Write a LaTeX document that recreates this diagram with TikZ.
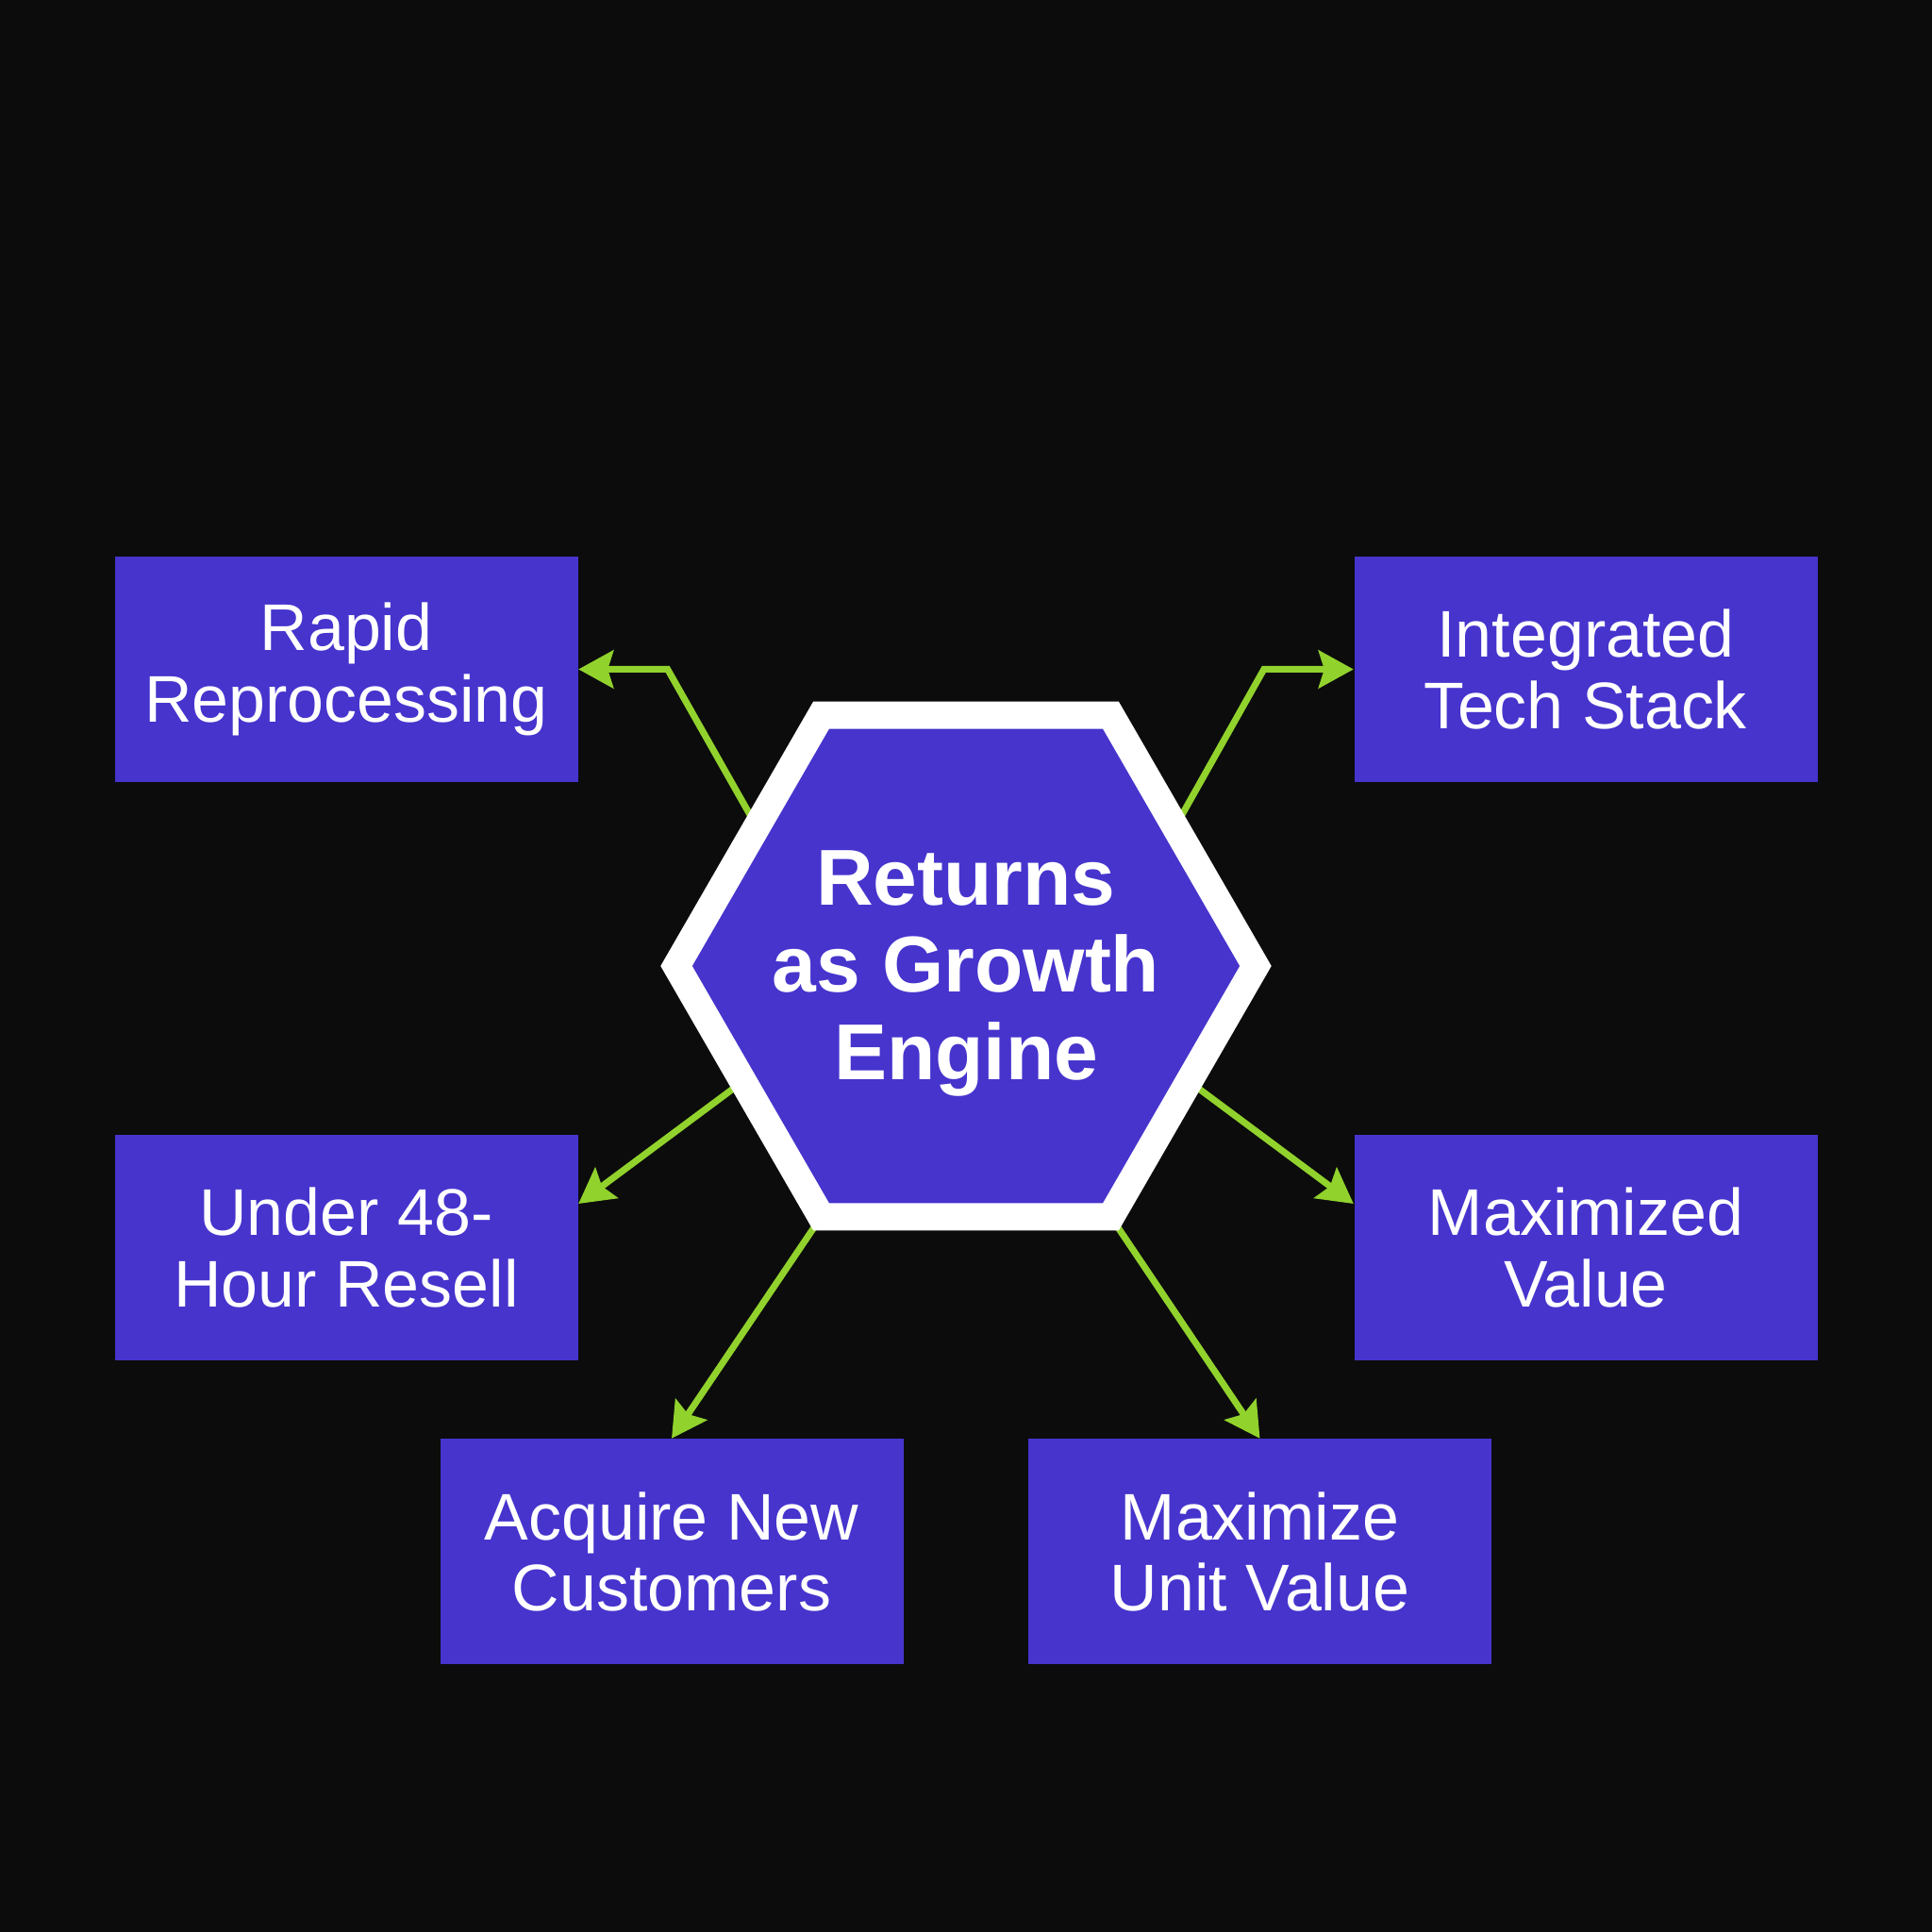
\documentclass[tikz,border=0pt]{standalone}
\usepackage{fontspec}
\setmainfont{Liberation Sans}
\usetikzlibrary{arrows.meta,shapes.geometric,calc}
\definecolor{night}{RGB}{12,12,12}
\definecolor{indigo}{RGB}{70,52,205}
\definecolor{lime}{RGB}{145,210,45}
\tikzset{
  tile/.style={fill=indigo, text=white, align=center, minimum width=4.91cm, minimum height=2.39cm, inner sep=0pt, font=\fontsize{19.9}{21.6}\selectfont},
  link/.style={draw=lime, line width=0.07cm, -{Stealth[length=0.37cm,width=0.4cm,inset=0.06cm]}},
  rim/.style={draw=white, line width=0.29cm}
}
\begin{document}
\begin{tikzpicture}[line join=miter, x=1.0cm, y=1.0cm]
	\useasboundingbox (0,0) rectangle (20.48,20.48);
	\fill[night] (0,0) rectangle (20.48,20.48);
	\node[regular polygon, regular polygon sides=6, minimum size=6.14cm, inner sep=0pt, outer sep=0pt, fill=indigo] (hub) at (10.24,10.24) {};
	\node[text=white, align=center, font=\bfseries\fontsize{23.9}{26.2}\selectfont] (title) at ([yshift=-0.08cm]hub) {Returns\\as Growth\\Engine};
	\node[tile] (rapid) at (3.67,13.385) {Rapid\\Reprocessing};
	\node[tile] (tech) at (16.81,13.385) {Integrated\\Tech Stack};
	\node[tile] (under) at (3.67,7.255) {Under 48-\\Hour Resell};
	\node[tile] (maxval) at (16.81,7.255) {Maximized\\Value};
	\node[tile] (acquire) at (7.12,4.03) {Acquire New\\Customers};
	\node[tile] (unit) at (13.355,4.03) {Maximize\\Unit Value};
	\draw[link] ($(hub.corner 2)!0.445!(hub.corner 3)$) -- ([xshift=0.945cm]rapid.east) -- (rapid.east);
	\draw[link] ($(hub.corner 1)!0.445!(hub.corner 6)$) -- ([xshift=-0.95cm]tech.west) -- (tech.west);
	\draw[link] ($(hub.corner 3)!0.46!(hub.corner 4)$) -- ([yshift=0.465cm]under.east);
	\draw[link] ($(hub.corner 6)!0.46!(hub.corner 5)$) -- ([yshift=0.465cm]maxval.west);
	\draw[link] (hub.corner 4) -- (acquire.north);
	\draw[link] (hub.corner 5) -- (unit.north);
	\draw[rim] (hub.corner 1) -- (hub.corner 2) -- (hub.corner 3) -- (hub.corner 4) -- (hub.corner 5) -- (hub.corner 6) -- cycle;
\end{tikzpicture}
\end{document}
